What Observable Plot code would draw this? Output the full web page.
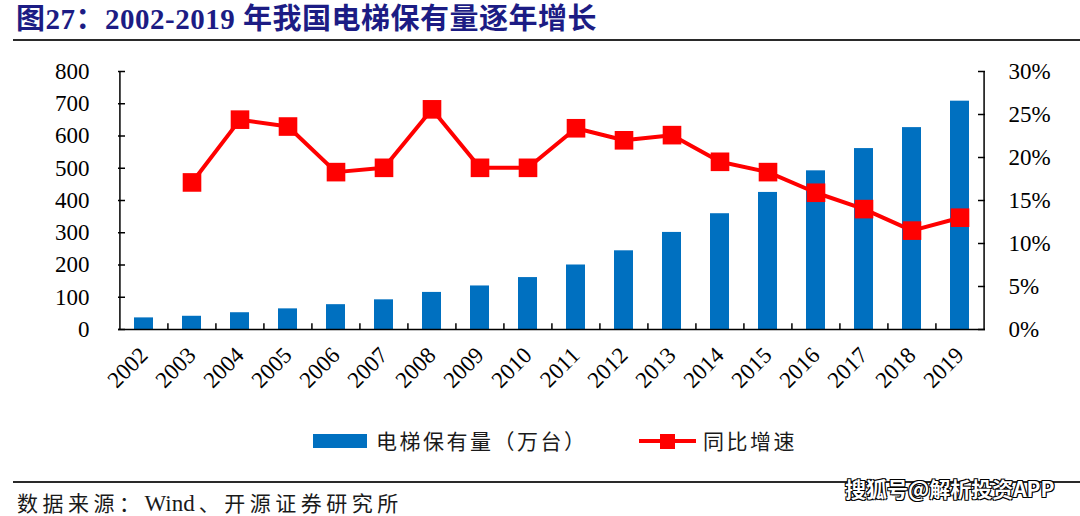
<!DOCTYPE html>
<html>
<head>
<meta charset="utf-8">
<script src="https://cdn.jsdelivr.net/npm/d3@7"></script>
<script src="https://cdn.jsdelivr.net/npm/@observablehq/plot@0.6"></script>
<style>
  html, body { margin: 0; padding: 0; background: #fff; }
  #wrap { position: relative; width: 1080px; height: 516px; overflow: hidden; background: #fff; }
  #title { position: absolute; left: 16px; top: 2px; font-family: "Liberation Serif", "Noto Sans CJK SC", serif; font-weight: bold; font-size: 29px; letter-spacing: 0.5px; color: #1c1c84; white-space: nowrap; line-height: 1.2; }
  .rule { position: absolute; background: #2a2a2a; }
  #chart { position: absolute; left: 0; top: 45px; }
  .leg { position: absolute; font-family: "Noto Sans CJK SC", sans-serif; font-size: 21px; letter-spacing: 2.5px; color: #1a1a1a; white-space: nowrap; line-height: 1; }
  #source { position: absolute; left: 17px; top: 492px; font-family: "Liberation Serif", "Noto Sans CJK SC", serif; font-size: 21px; letter-spacing: 4.5px; color: #1a1a1a; white-space: nowrap; line-height: 1; }
  #source .lat { letter-spacing: 0; font-size: 23px; padding-right: 4px; }
  #wm { position: absolute; left: 845px; top: 477px; font-family: "Noto Sans CJK SC", sans-serif; font-weight: bold; font-size: 21px; color: #fff; white-space: nowrap; line-height: 1.1;
        text-shadow: 1px 1px 0 #000, -1px -1px 0 #000, 1px -1px 0 #000, -1px 1px 0 #000; }
</style>
</head>
<body>
<div id="wrap">
  <div id="title">图27：2002-2019 年我国电梯保有量逐年增长</div>
  <div class="rule" style="left:13px; top:39px; width:1067px; height:2px;"></div>
  <div id="chart"></div>
  <div style="position:absolute; left:313px; top:434px; width:54px; height:14px; background:#0070c0;"></div>
  <div class="leg" style="left:376px; top:430px;">电梯保有量（万台）</div>
  <div style="position:absolute; left:639px; top:439px; width:57px; height:4px; background:#ff0000;"></div>
  <div style="position:absolute; left:660px; top:434px; width:15px; height:15px; background:#ff0000;"></div>
  <div class="leg" style="left:703px; top:430px;">同比增速</div>
  <div class="rule" style="left:13px; top:481px; width:1067px; height:2px;"></div>
  <div id="source">数据来源：<span class="lat">Wind</span>、开源证券研究所</div>
  <div id="wm">搜狐号@解析投资APP</div>
</div>
<script>
// ---- data ----
const years = ["2002","2003","2004","2005","2006","2007","2008","2009","2010","2011","2012","2013","2014","2015","2016","2017","2018","2019"];
const stock = [36, 41, 52, 64, 77, 92, 115, 135, 161, 200, 244, 301, 359, 425, 492, 561, 626, 708]; // 万台
const growth = [null, 17.1, 24.4, 23.6, 18.3, 18.8, 25.6, 18.8, 18.8, 23.4, 22.0, 22.6, 19.5, 18.3, 15.9, 14.0, 11.5, 13.0]; // %
const leftTicks = [0, 100, 200, 300, 400, 500, 600, 700, 800];
const rightTicks = [0, 5, 10, 15, 20, 25, 30]; // %

// ---- chart ----
const W = 1080, H = 370;
const mL = 118, mR = 95, mT = 26, mB = 86;
const yMax = 800, gMax = 30;
const toLeft = g => g * yMax / gMax;
const frameW = W - mL - mR, frameH = H - mT - mB;
const step = frameW / years.length;

const rows = years.map((y, i) => ({year: y, stock: stock[i], growth: growth[i]}));
const lineRows = rows.filter(d => d.growth != null);

const red = "#ff0000", blue = "#0070c0";

const plot = Plot.plot({
  width: W, height: H,
  marginLeft: mL, marginRight: mR, marginTop: mT, marginBottom: mB,
  style: {fontFamily: "'Liberation Serif', serif", color: "#000", background: "transparent"},
  x: {domain: years, paddingInner: 0.6, paddingOuter: 0.3, align: 0.5},
  y: {domain: [0, yMax]},
  marks: [
    Plot.barY(rows, {x: "year", y: "stock", fill: blue}),
    // axis lines
    Plot.ruleY([0], {stroke: "#000", strokeWidth: 1.5}),
    Plot.ruleX([years[0]], {dx: -step / 2, stroke: "#000", strokeWidth: 1.5}),
    Plot.ruleX([years[years.length - 1]], {dx: step / 2, stroke: "#000", strokeWidth: 1.5}),
    // inward ticks
    Plot.ruleY(leftTicks, {y: d => d, insetRight: frameW - 7, stroke: "#000", strokeWidth: 1.5}),
    Plot.ruleY(rightTicks, {y: d => toLeft(d), insetLeft: frameW - 7, stroke: "#000", strokeWidth: 1.5}),
    Plot.ruleX(years.slice(1), {x: d => d, dx: -step / 2, y1: 0, y2: 18, stroke: "#000", strokeWidth: 1.5}),
    // growth line
    Plot.lineY(lineRows, {x: "year", y: d => toLeft(d.growth), stroke: red, strokeWidth: 4}),
    Plot.dot(lineRows, {x: "year", y: d => toLeft(d.growth), symbol: "square", r: 10.5, fill: red, stroke: "none"}),
    // axes labels
    Plot.axisY(leftTicks, {anchor: "left", tickSize: 0, tickPadding: 29, fontSize: 23, label: null}),
    Plot.axisY(rightTicks.map(toLeft), {anchor: "right", tickSize: 0, tickPadding: 23, fontSize: 23, label: null,
      tickFormat: d => Math.round(d * gMax / yMax) + "%"}),
    Plot.axisX({tickRotate: -45, tickSize: 0, tickPadding: 22, fontSize: 23, label: null, dx: 0})
  ]
});
document.getElementById("chart").appendChild(plot);
</script>
</body>
</html>
